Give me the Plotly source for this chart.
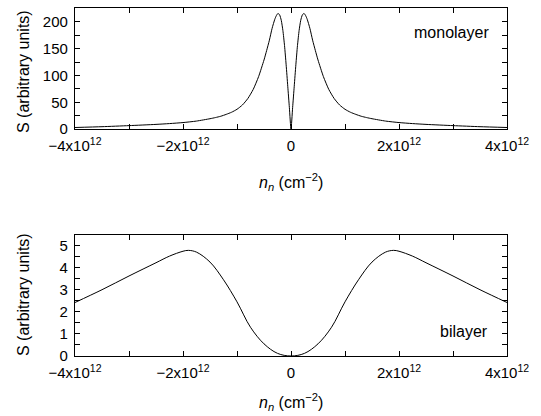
import plotly.graph_objects as go

# ---- data ----
mono_n_half = [-4.0, -3.5, -3.0, -2.5, -2.25, -2.0, -1.75, -1.5, -1.4, -1.3, -1.2, -1.1,
               -1.0, -0.9, -0.8, -0.7, -0.6, -0.5, -0.45, -0.4, -0.35, -0.3, -0.27,
               -0.24, -0.21, -0.18, -0.15, -0.12, -0.09, -0.06, -0.03, 0.0]
mono_S_half = [3, 4.5, 6.5, 8.8, 10.3, 12.2, 15, 19.4, 21.5, 24, 27.5, 31.5,
               37, 45, 57, 74, 98, 129, 147, 166, 188, 205, 212,
               216, 213, 203, 184, 156, 120, 80, 40, 0]
mono_n = [v * 1e12 for v in mono_n_half] + [-v * 1e12 for v in reversed(mono_n_half[:-1])]
mono_S = mono_S_half + list(reversed(mono_S_half[:-1]))

bi_n_half = [-4.0, -3.5, -3.0, -2.5, -2.25, -2.0, -1.9, -1.75, -1.5, -1.25, -1.0,
             -0.75, -0.5, -0.25, 0.0]
bi_S_half = [2.42, 3.0, 3.62, 4.22, 4.52, 4.74, 4.78, 4.7, 4.25, 3.45, 2.45,
             1.3, 0.55, 0.12, 0.0]
bi_n = [v * 1e12 for v in bi_n_half] + [-v * 1e12 for v in reversed(bi_n_half[:-1])]
bi_S = bi_S_half + list(reversed(bi_S_half[:-1]))

x_tickvals = [-4e12, -3e12, -2e12, -1e12, 0, 1e12, 2e12, 3e12, 4e12]
x_ticktext = ["−4x10<sup>12</sup>", "", "−2x10<sup>12</sup>", "", "0", "",
              "2x10<sup>12</sup>", "", "4x10<sup>12</sup>"]
mono_yticks = [0, 25, 50, 75, 100, 125, 150, 175, 200, 225]
mono_ytext = ["0", "", "50", "", "100", "", "150", "", "200", ""]
bi_yticks = [0, 0.5, 1, 1.5, 2, 2.5, 3, 3.5, 4, 4.5, 5]
bi_ytext = ["0", "", "1", "", "2", "", "3", "", "4", "", "5"]

FONT = "Liberation Sans, Arial, sans-serif"

fig = go.Figure()
fig.add_trace(go.Scatter(x=mono_n, y=mono_S, mode="lines",
                         line=dict(color="black", width=1, shape="spline", smoothing=0.6),
                         xaxis="x", yaxis="y", showlegend=False))
fig.add_trace(go.Scatter(x=bi_n, y=bi_S, mode="lines",
                         line=dict(color="black", width=1, shape="spline", smoothing=1.0),
                         xaxis="x2", yaxis="y2", showlegend=False))

axis_common = dict(showgrid=False, zeroline=False, showline=True, linecolor="black",
                   linewidth=1.3, mirror="ticks", ticks="inside", ticklen=5,
                   tickcolor="black", tickwidth=1,
                   tickfont=dict(family=FONT, size=15, color="black"))

fig.update_layout(
    width=541, height=416,
    margin=dict(l=75, r=34, t=8, b=60),
    paper_bgcolor="white", plot_bgcolor="white",
    font=dict(family=FONT, size=15, color="black"),
    xaxis=dict(domain=[0, 1], anchor="y", range=[-4e12, 4e12], ticklabelstandoff=3,
               tickmode="array", tickvals=x_tickvals, ticktext=x_ticktext, **axis_common),
    yaxis=dict(domain=[0.652, 1.0], anchor="x", range=[0, 226], ticklabelstandoff=3,
               tickmode="array", tickvals=mono_yticks, ticktext=mono_ytext, **axis_common),
    xaxis2=dict(domain=[0, 1], anchor="y2", range=[-4e12, 4e12], ticklabelstandoff=3,
                tickmode="array", tickvals=x_tickvals, ticktext=x_ticktext, **axis_common),
    yaxis2=dict(domain=[0.0, 0.348], anchor="x2", range=[0, 5.48], ticklabelstandoff=3,
                tickmode="array", tickvals=bi_yticks, ticktext=bi_ytext, **axis_common),
)

ann_font = dict(family=FONT, size=16, color="black")
xtitle = "<i>n</i><sub><i>n</i></sub> (cm<sup>−2</sup>)"
ytitle = "S (arbitrary units)"
fig.add_annotation(text=xtitle, xref="paper", yref="paper", x=0.5, y=(356 - 182) / 348,
                   showarrow=False, font=ann_font, yanchor="middle")
fig.add_annotation(text=xtitle, xref="paper", yref="paper", x=0.5, y=(356 - 402) / 348,
                   showarrow=False, font=ann_font, yanchor="middle")
fig.add_annotation(text=ytitle, xref="paper", yref="paper", x=(23 - 75) / 432, y=(356 - 72) / 348,
                   showarrow=False, font=ann_font, textangle=-90, xanchor="center", yanchor="middle")
fig.add_annotation(text=ytitle, xref="paper", yref="paper", x=(23 - 75) / 432, y=(356 - 295) / 348,
                   showarrow=False, font=ann_font, textangle=-90, xanchor="center", yanchor="middle")
fig.add_annotation(text="monolayer", xref="paper", yref="paper", x=(451 - 75) / 432, y=(356 - 32) / 348,
                   showarrow=False, font=ann_font, xanchor="center", yanchor="middle")
fig.add_annotation(text="bilayer", xref="paper", yref="paper", x=(464 - 75) / 432, y=(356 - 331) / 348,
                   showarrow=False, font=ann_font, xanchor="center", yanchor="middle")

fig.write_html("out.html")
